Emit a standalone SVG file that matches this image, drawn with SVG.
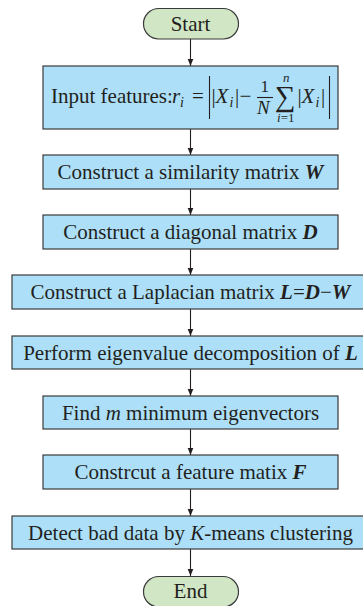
<svg xmlns="http://www.w3.org/2000/svg" width="363" height="606" viewBox="0 0 363 606">
<style>
.box{fill:#ade0f8;stroke:#3a3a3a;stroke-width:1.2}
.pill{fill:#d0e6c5;stroke:#3a3a3a;stroke-width:1.2}
.t{font-family:"Liberation Serif","Times New Roman",serif;font-size:21px;fill:#231f20;text-anchor:middle}
.m{font-family:"Liberation Serif","Times New Roman",serif;font-size:21px;fill:#231f20}
.s{font-size:14px}
.it{font-style:italic}
.bi{font-style:italic;font-weight:bold}
.con line{stroke:#231f20;stroke-width:1.1;marker-end:url(#ah)}
.bar{stroke:#231f20;stroke-width:1.1}
</style>
<defs>
<marker id="ah" viewBox="0 0 10 10" refX="10" refY="5" markerWidth="7" markerHeight="7" markerUnits="userSpaceOnUse" orient="auto">
<path d="M0,1 L10,5 L0,9 z" fill="#231f20"/>
</marker>
</defs>
<g id="connectors" class="con">
<line x1="190.5" y1="39" x2="190.5" y2="66"/>
<line x1="190.5" y1="129" x2="190.5" y2="155"/>
<line x1="190.5" y1="189" x2="190.5" y2="215"/>
<line x1="190.5" y1="249" x2="190.5" y2="275"/>
<line x1="190.5" y1="309" x2="190.5" y2="336"/>
<line x1="190.5" y1="369" x2="190.5" y2="396"/>
<line x1="190.5" y1="429" x2="190.5" y2="455"/>
<line x1="190.5" y1="489" x2="190.5" y2="516"/>
<line x1="190.5" y1="549" x2="190.5" y2="576"/>
</g>
<g id="start">
<rect class="pill" x="143.5" y="8.5" width="95" height="30.5" rx="15.25"/>
<text class="t" x="190.5" y="30.5">Start</text>
</g>
<g id="input">
<rect class="box" x="43" y="66" width="295" height="63"/>
<text class="m" x="51" y="103">Input features:</text>
<text class="m" x="172" y="103"><tspan class="it">r</tspan><tspan class="it s" x="180" y="107">i</tspan><tspan x="192" y="103">=</tspan></text>
<line class="bar" x1="209.5" y1="76" x2="209.5" y2="119"/>
<text class="m" x="211.5" y="103">|<tspan class="it" x="215.5">X</tspan><tspan class="it s" x="229.5" y="107">i</tspan><tspan x="235" y="103">|</tspan><tspan x="239.5">−</tspan></text>
<text class="m" x="260.5" y="92" style="font-size:17px">1</text>
<line class="bar" x1="257" y1="97.5" x2="273" y2="97.5"/>
<text class="m it" x="257" y="114" style="font-size:19px">N</text>
<text class="m" x="275" y="106" style="font-size:29px">∑</text>
<text class="m it s" x="283" y="82" style="font-size:13px">n</text>
<text class="m s" x="277" y="122" style="font-size:13px"><tspan class="it">i</tspan>=1</text>
<text class="m" x="297.5" y="103">|<tspan class="it" x="301.5">X</tspan><tspan class="it s" x="315.5" y="107">i</tspan><tspan x="321" y="103">|</tspan></text>
<line class="bar" x1="329.5" y1="76" x2="329.5" y2="119"/>
</g>
<g id="similarity">
<rect class="box" x="43" y="155" width="295" height="34"/>
<text class="t" x="190.5" y="179">Construct a similarity matrix <tspan class="bi">W</tspan></text>
</g>
<g id="diagonal">
<rect class="box" x="43" y="215" width="295" height="34"/>
<text class="t" x="190.5" y="239">Construct a diagonal matrix <tspan class="bi">D</tspan></text>
</g>
<g id="laplacian">
<rect class="box" x="12" y="275" width="357" height="34"/>
<text class="t" x="190.5" y="299">Construct a Laplacian matrix <tspan class="bi">L</tspan>=<tspan class="bi">D</tspan>−<tspan class="bi">W</tspan></text>
</g>
<g id="eigen">
<rect class="box" x="12" y="336" width="357" height="33"/>
<text class="t" x="190.5" y="360">Perform eigenvalue decomposition of <tspan class="bi">L</tspan></text>
</g>
<g id="findm">
<rect class="box" x="43" y="396" width="295" height="33"/>
<text class="t" x="190.5" y="420">Find <tspan class="it">m</tspan> minimum eigenvectors</text>
</g>
<g id="feature">
<rect class="box" x="43" y="455" width="295" height="34"/>
<text class="t" x="190.5" y="479">Constrcut a feature matix <tspan class="bi">F</tspan></text>
</g>
<g id="detect">
<rect class="box" x="12" y="516" width="357" height="33"/>
<text class="t" x="190.5" y="540">Detect bad data by <tspan class="it">K</tspan>-means clustering</text>
</g>
<g id="end">
<rect class="pill" x="143.5" y="576.5" width="95" height="30.5" rx="15.25"/>
<text class="t" x="190.5" y="598">End</text>
</g>
</svg>
